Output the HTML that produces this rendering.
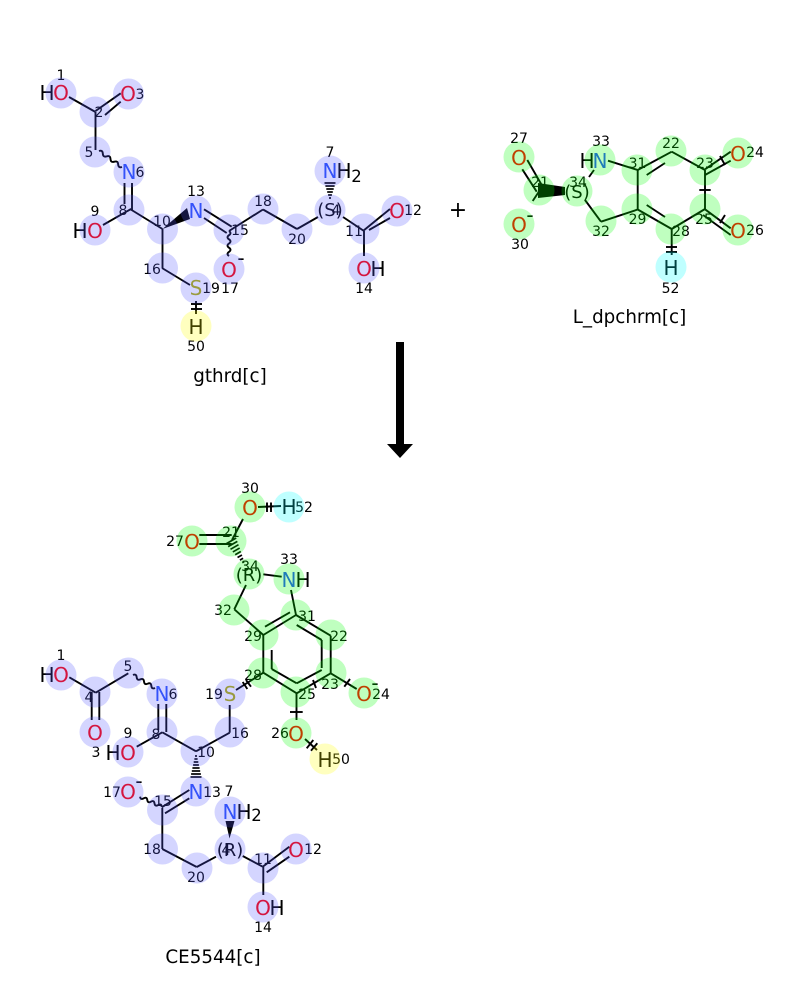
<!DOCTYPE html>
<html><head><meta charset="utf-8"><style>
html,body{margin:0;padding:0;background:#fff}
svg{display:block}
.b line,.b path{stroke:#000;stroke-width:1.9;fill:none;stroke-linecap:butt}
.h line{stroke:#000;stroke-width:1.7}
text{font-family:"DejaVu Sans",sans-serif;text-anchor:middle}
.a text{font-size:20px}
.n text{font-size:14px;fill:#000}
.o{fill:#ff0000}.c{fill:#2a50f8}.s{fill:#b2b200}
.lb text{font-size:18.300px}
.p text{font-size:18px;fill:#000}
.hb circle{fill:#5558ff;fill-opacity:.25}
.hg circle{fill:#00ff00;fill-opacity:.25}
.hy circle{fill:#ffff00;fill-opacity:.25}
.hc circle{fill:#00ffff;fill-opacity:.25}
</style></head><body>
<svg width="800" height="1000" viewBox="0 0 800 1000" xmlns="http://www.w3.org/2000/svg">
<g class="b">
<!-- gthrd -->
<line x1="69" y1="97" x2="95.5" y2="112"/>
<line x1="95.5" y1="111" x2="120.7" y2="93.3"/>
<line x1="105" y1="115" x2="120.7" y2="101.7"/>
<line x1="95.5" y1="112" x2="95.5" y2="150"/>
<path d="M99 151q3.6 -1.2 3.83 2.67t3.83 2.67t3.83 2.67t3.83 2.67t3.83 2.67t3.83 2.67"/>
<line x1="124.5" y1="183" x2="124.5" y2="204"/>
<line x1="132" y1="183" x2="132" y2="210"/>
<line x1="131" y1="209" x2="103" y2="225"/>
<line x1="130" y1="209" x2="162.5" y2="229"/>
<line x1="204" y1="209.3" x2="231.7" y2="226.7"/>
<line x1="204" y1="218" x2="226.7" y2="233"/>
<path d="M229 231q3 2.08 0 4.17t0 4.17t0 4.17t0 4.17t0 4.17t0 4.17"/>
<line x1="229" y1="231" x2="263" y2="209.5"/>
<line x1="263" y1="209.5" x2="297" y2="229"/>
<line x1="297" y1="229" x2="318" y2="217"/>
<line x1="343" y1="217" x2="364" y2="231"/>
<line x1="363" y1="231" x2="390" y2="209"/>
<line x1="369" y1="230" x2="390" y2="218"/>
<line x1="364" y1="231" x2="364" y2="256"/>
<line x1="162.5" y1="229" x2="162.5" y2="268"/>
<line x1="162" y1="268" x2="190" y2="285"/>
<line x1="196" y1="301" x2="196" y2="314"/>
<line x1="191" y1="304" x2="202" y2="304"/>
<line x1="191" y1="309" x2="202" y2="309"/>
<!-- dpchrm -->
<line x1="527.3" y1="160" x2="541.7" y2="185"/>
<line x1="522.3" y1="169.3" x2="536.7" y2="191.7"/>
<line x1="540" y1="190" x2="532.7" y2="201"/>
<line x1="589" y1="177" x2="594" y2="170"/>
<line x1="608" y1="160.7" x2="637.7" y2="170"/>
<line x1="637.7" y1="170" x2="671.7" y2="151.7"/>
<line x1="646.7" y1="175" x2="665" y2="163"/>
<line x1="671.7" y1="151.7" x2="705" y2="170"/>
<line x1="705" y1="169.3" x2="730.7" y2="151.7"/>
<line x1="705" y1="175" x2="730.7" y2="160.7"/>
<line x1="720" y1="156" x2="725" y2="165"/>
<line x1="705" y1="170" x2="705" y2="209"/>
<line x1="699.3" y1="190" x2="710.7" y2="190"/>
<line x1="705" y1="209.3" x2="730.7" y2="228.3"/>
<line x1="703" y1="215" x2="730.7" y2="235"/>
<line x1="720" y1="223" x2="725" y2="215"/>
<line x1="705" y1="209" x2="671.7" y2="229"/>
<line x1="671.7" y1="229" x2="637.7" y2="209.5"/>
<line x1="665" y1="217" x2="646.7" y2="205"/>
<line x1="637.7" y1="209.5" x2="637.7" y2="170"/>
<line x1="637.7" y1="209.5" x2="601" y2="221.7"/>
<line x1="601" y1="221.7" x2="585" y2="200"/>
<line x1="671.7" y1="229" x2="671.7" y2="255"/>
<line x1="666" y1="247" x2="677" y2="247"/>
<line x1="666" y1="252" x2="677" y2="252"/>
<!-- product top -->
<line x1="258" y1="507" x2="281" y2="506"/>
<line x1="267" y1="502.500" x2="267" y2="512"/>
<line x1="271" y1="502.500" x2="271" y2="512"/>
<line x1="243" y1="519" x2="232" y2="540"/>
<line x1="199.300" y1="535" x2="231.700" y2="535"/>
<line x1="199.300" y1="544" x2="231.700" y2="544"/>
<line x1="263.300" y1="574.300" x2="281.700" y2="576.700"/>
<line x1="246" y1="585" x2="234.300" y2="609.300"/>
<line x1="234.300" y1="609.300" x2="263.300" y2="635"/>
<line x1="291" y1="590" x2="296" y2="615"/>
<line x1="263.300" y1="635" x2="296" y2="615"/>
<line x1="265" y1="626.700" x2="290" y2="612.300"/>
<line x1="296" y1="615" x2="330.700" y2="635.700"/>
<line x1="296.700" y1="625" x2="321.700" y2="640"/>
<line x1="330.700" y1="635.700" x2="330.700" y2="673.300"/>
<line x1="321.700" y1="640" x2="321.700" y2="668"/>
<line x1="330.700" y1="673.300" x2="296.700" y2="693.300"/>
<line x1="321.700" y1="670" x2="296.700" y2="683.300"/>
<line x1="313" y1="680" x2="316" y2="688"/>
<line x1="296.700" y1="693.300" x2="263.300" y2="672.700"/>
<line x1="296.700" y1="683.300" x2="271.700" y2="669"/>
<line x1="263.300" y1="635" x2="263.300" y2="672.700"/>
<line x1="271.700" y1="650" x2="271.700" y2="669"/>
<line x1="263.300" y1="672.700" x2="236" y2="690"/>
<line x1="242.700" y1="682" x2="247.300" y2="689"/>
<line x1="246" y1="680" x2="251" y2="686.700"/>
<line x1="330.700" y1="673.300" x2="356.700" y2="689"/>
<line x1="344.300" y1="686.700" x2="350" y2="679"/>
<line x1="296.500" y1="693" x2="296.500" y2="720"/>
<line x1="290" y1="712" x2="302.700" y2="712"/>
<line x1="305" y1="739" x2="317" y2="750"/>
<line x1="306.700" y1="748.300" x2="313.300" y2="740"/>
<line x1="311" y1="750.700" x2="317.300" y2="743.300"/>
<!-- product left -->
<line x1="69.300" y1="677.300" x2="95.700" y2="692.700"/>
<line x1="95.700" y1="692.700" x2="128.300" y2="673.300"/>
<path d="M133 675q3.300 -1.500 3.670 2.170t3.670 2.170t3.670 2.170t3.670 2.170t3.670 2.170t3.670 2.170"/>
<line x1="91.700" y1="692" x2="91.700" y2="720"/>
<line x1="99.300" y1="692" x2="99.300" y2="720"/>
<line x1="158.300" y1="704" x2="158.300" y2="730"/>
<line x1="166.300" y1="704" x2="166.300" y2="732"/>
<line x1="162.300" y1="732.300" x2="136.700" y2="746.700"/>
<line x1="162.300" y1="732.300" x2="196" y2="751.300"/>
<line x1="196" y1="751.300" x2="229.700" y2="732.700"/>
<line x1="229.700" y1="732.700" x2="229.700" y2="705"/>
<!-- product bottom -->
<path d="M161.700 806.700q-.5 -3.500 -3.600 -1.670t-3.600 -1.670t-3.600 -1.670t-3.600 -1.670t-3.600 -1.670t-3.600 -1.670"/>
<line x1="189.300" y1="790" x2="161.700" y2="807.300"/>
<line x1="189.300" y1="798.300" x2="165" y2="813.300"/>
<line x1="162.300" y1="808" x2="162.300" y2="849"/>
<line x1="162.300" y1="849" x2="196.700" y2="867"/>
<line x1="196.700" y1="867" x2="216" y2="856.700"/>
<line x1="242.700" y1="856" x2="262.700" y2="866.700"/>
<line x1="262.700" y1="866.700" x2="289.300" y2="846.700"/>
<line x1="266.700" y1="872.300" x2="289.300" y2="856.700"/>
<line x1="263.300" y1="867" x2="263.300" y2="895"/>
</g>
<!-- wedges -->
<polygon points="162.500,229 187,208 190,219" fill="#000"/>
<polygon points="538,183 538,198 565,195 565,187" fill="#000"/>
<polygon points="229.500,838.500 225.500,821 234.500,821" fill="#000"/>
<!-- hatches -->
<g class="h">
<line x1="324.500" y1="183" x2="335.500" y2="183"/><line x1="325.400" y1="186" x2="334.600" y2="186"/><line x1="326.300" y1="189" x2="333.700" y2="189"/><line x1="327.200" y1="192" x2="332.800" y2="192"/><line x1="328.100" y1="195" x2="331.900" y2="195"/><line x1="329" y1="198" x2="331" y2="198"/>
<line x1="195" y1="756" x2="197" y2="756"/><line x1="194.400" y1="759" x2="197.600" y2="759"/><line x1="193.700" y1="762" x2="198.300" y2="762"/><line x1="193.100" y1="765" x2="198.900" y2="765"/><line x1="192.400" y1="768" x2="199.600" y2="768"/><line x1="191.800" y1="771" x2="200.200" y2="771"/><line x1="191.100" y1="774" x2="200.900" y2="774"/><line x1="190.500" y1="777" x2="201.500" y2="777"/>
<line x1="225.800" y1="544" x2="236.200" y2="538"/><line x1="228.150" y1="546.650" x2="237.350" y2="541.350"/><line x1="230.500" y1="549.300" x2="238.500" y2="544.700"/><line x1="232.850" y1="551.950" x2="239.650" y2="548.050"/><line x1="235.200" y1="554.700" x2="240.800" y2="551.500"/><line x1="237.550" y1="557.450" x2="241.950" y2="554.950"/><line x1="239.900" y1="560.100" x2="243.100" y2="558.300"/><line x1="242.300" y1="562.750" x2="244.200" y2="561.650"/>
</g>
<!-- arrow -->
<rect x="396" y="342" width="8" height="103" fill="#000"/>
<polygon points="387,444 413,444 400,458" fill="#000"/>
<!-- atoms -->
<g class="a">
<text x="47" y="100">H</text><text x="61" y="100" class="o">O</text><text x="128" y="101" class="o">O</text><text x="129" y="179" class="c">N</text><text x="80" y="238">H</text><text x="95" y="238" class="o">O</text><text x="196" y="218" class="c">N</text><text x="229" y="277" class="o">O</text><text x="241" y="265">-</text><text x="196" y="295" class="s">S</text><text x="196" y="334">H</text><text x="330" y="178" class="c">N</text><text x="344" y="178">H</text><text x="356.500" y="182" style="font-size:16.500px">2</text><text x="397" y="218" class="o">O</text><text x="364" y="276" class="o">O</text><text x="378" y="276">H</text>
<text x="519" y="165" class="o">O</text><text x="519" y="232" class="o">O</text><text x="530" y="222">-</text><text x="587" y="168">H</text><text x="600" y="168" class="c">N</text><text x="738" y="161" class="o">O</text><text x="738" y="238" class="o">O</text><text x="671" y="275">H</text>
<text x="250" y="515" class="o">O</text><text x="289" y="514">H</text><text x="192" y="549" class="o">O</text><text x="289" y="587" class="c">N</text><text x="303" y="587">H</text><text x="364" y="701" class="o">O</text><text x="375" y="690">-</text><text x="296" y="741" class="o">O</text><text x="325" y="767">H</text><text x="230" y="701" class="s">S</text>
<text x="47" y="682">H</text><text x="61" y="682" class="o">O</text><text x="95" y="740" class="o">O</text><text x="162" y="701" class="c">N</text><text x="113" y="760">H</text><text x="128" y="760" class="o">O</text><text x="196" y="799" class="c">N</text><text x="128" y="799" class="o">O</text><text x="139" y="788">-</text><text x="230" y="819" class="c">N</text><text x="244" y="819">H</text><text x="256.500" y="821" style="font-size:16.500px">2</text><text x="296" y="857" class="o">O</text><text x="263" y="915" class="o">O</text><text x="277" y="915">H</text>
<text x="458" y="217" style="font-size:22px">+</text>
</g>
<g class="p">
<text x="330" y="216">(S)</text><text x="577" y="198">(S)</text><text x="249" y="581">(R)</text><text x="230" y="856">(R)</text>
</g>
<!-- numbers -->
<g class="n">
<text x="61" y="80">1</text><text x="99" y="117">2</text><text x="140" y="99">3</text><text x="89" y="157">5</text><text x="140" y="177">6</text><text x="123" y="215">8</text><text x="95" y="216">9</text><text x="162" y="226">10</text><text x="196" y="196">13</text><text x="240" y="235">15</text><text x="263" y="206">18</text><text x="297" y="244">20</text><text x="336" y="215">4</text><text x="354" y="236">11</text><text x="413" y="215">12</text><text x="364" y="293">14</text><text x="152" y="274">16</text><text x="211" y="293">19</text><text x="230" y="293">17</text><text x="196" y="351">50</text><text x="330" y="157">7</text>
<text x="519" y="143">27</text><text x="540" y="187">21</text><text x="578" y="187">34</text><text x="520" y="249">30</text><text x="601" y="146">33</text><text x="637.500" y="168">31</text><text x="671" y="148">22</text><text x="705" y="168">23</text><text x="755" y="157">24</text><text x="704" y="224">25</text><text x="755" y="235">26</text><text x="637.500" y="224">29</text><text x="681" y="236">28</text><text x="601" y="236">32</text><text x="670.500" y="293">52</text>
<text x="250" y="493">30</text><text x="304" y="512">52</text><text x="231" y="537">21</text><text x="175" y="546">27</text><text x="250" y="571">34</text><text x="289" y="564">33</text><text x="223" y="615">32</text><text x="307" y="621">31</text><text x="253" y="641">29</text><text x="339" y="641">22</text><text x="253" y="680">28</text><text x="307" y="699">25</text><text x="330" y="689">23</text><text x="381" y="699">24</text><text x="214" y="699">19</text><text x="280" y="738">26</text><text x="341" y="764">50</text>
<text x="61" y="660">1</text><text x="89" y="702">4</text><text x="96" y="757">3</text><text x="128" y="671">5</text><text x="173" y="699">6</text><text x="156" y="739">8</text><text x="128" y="738">9</text><text x="206" y="757">10</text><text x="240" y="738">16</text><text x="212" y="797">13</text><text x="229" y="796">7</text><text x="112" y="797">17</text><text x="163" y="806">15</text><text x="152" y="854">18</text><text x="196" y="882">20</text><text x="226" y="855">4</text><text x="263" y="864">11</text><text x="313" y="854">12</text><text x="263" y="932">14</text>
</g>
<!-- labels -->
<g class="lb">
<text x="230" y="382">gthrd[c]</text><text x="629.500" y="323">L_dpchrm[c]</text><text x="213" y="963">CE5544[c]</text>
</g>
<!-- highlights -->
<g class="hb">
<circle cx="61" cy="93" r="15.500"/><circle cx="95" cy="112" r="15.500"/><circle cx="128.500" cy="94" r="15.500"/><circle cx="95" cy="152" r="15.500"/><circle cx="129" cy="172" r="15.500"/><circle cx="129" cy="210" r="15.500"/><circle cx="95" cy="230" r="15.500"/><circle cx="162.500" cy="229" r="15.500"/><circle cx="196" cy="211" r="15.500"/><circle cx="229" cy="230" r="15.500"/><circle cx="162.500" cy="268" r="15.500"/><circle cx="229" cy="269" r="15.500"/><circle cx="263" cy="209" r="15.500"/><circle cx="196" cy="288" r="15.500"/><circle cx="297" cy="229" r="15.500"/><circle cx="330" cy="210" r="15.500"/><circle cx="330" cy="171" r="15.500"/><circle cx="364" cy="229" r="15.500"/><circle cx="397" cy="211" r="15.500"/><circle cx="364" cy="268" r="15.500"/>
<circle cx="61" cy="675" r="15.500"/><circle cx="95" cy="692" r="15.500"/><circle cx="95" cy="732" r="15.500"/><circle cx="128.500" cy="673" r="15.500"/><circle cx="162" cy="694" r="15.500"/><circle cx="162" cy="732" r="15.500"/><circle cx="128" cy="752" r="15.500"/><circle cx="196" cy="751" r="15.500"/><circle cx="230" cy="732" r="15.500"/><circle cx="230" cy="694" r="15.500"/><circle cx="196" cy="791" r="15.500"/><circle cx="128" cy="792" r="15.500"/><circle cx="162.500" cy="810" r="15.500"/><circle cx="162.500" cy="849" r="15.500"/><circle cx="197" cy="868" r="15.500"/><circle cx="230" cy="849" r="15.500"/><circle cx="230" cy="812" r="15.500"/><circle cx="263" cy="868" r="15.500"/><circle cx="296" cy="849" r="15.500"/><circle cx="263" cy="907" r="15.500"/>
</g>
<g class="hg">
<circle cx="519" cy="157" r="15.500"/><circle cx="539" cy="190" r="15.500"/><circle cx="577" cy="191" r="15.500"/><circle cx="519" cy="224" r="15.500"/><circle cx="600" cy="160" r="15.500"/><circle cx="637" cy="170" r="15.500"/><circle cx="671" cy="151" r="15.500"/><circle cx="705" cy="170" r="15.500"/><circle cx="738" cy="153" r="15.500"/><circle cx="705" cy="209" r="15.500"/><circle cx="738" cy="230" r="15.500"/><circle cx="671" cy="229" r="15.500"/><circle cx="637" cy="209" r="15.500"/><circle cx="601" cy="221" r="15.500"/>
<circle cx="250" cy="507" r="15.500"/><circle cx="231" cy="541" r="15.500"/><circle cx="192" cy="541" r="15.500"/><circle cx="249" cy="574" r="15.500"/><circle cx="289" cy="579" r="15.500"/><circle cx="234" cy="610" r="15.500"/><circle cx="296" cy="615" r="15.500"/><circle cx="263" cy="635" r="15.500"/><circle cx="331" cy="635" r="15.500"/><circle cx="263" cy="673" r="15.500"/><circle cx="331" cy="673" r="15.500"/><circle cx="296" cy="692" r="15.500"/><circle cx="364" cy="693" r="15.500"/><circle cx="296" cy="733" r="15.500"/>
</g>
<g class="hy"><circle cx="196" cy="326" r="15.500"/><circle cx="325" cy="759" r="15.500"/></g>
<g class="hc"><circle cx="671" cy="267" r="15.500"/><circle cx="289" cy="507" r="15.500"/></g>
</svg>
</body></html>
